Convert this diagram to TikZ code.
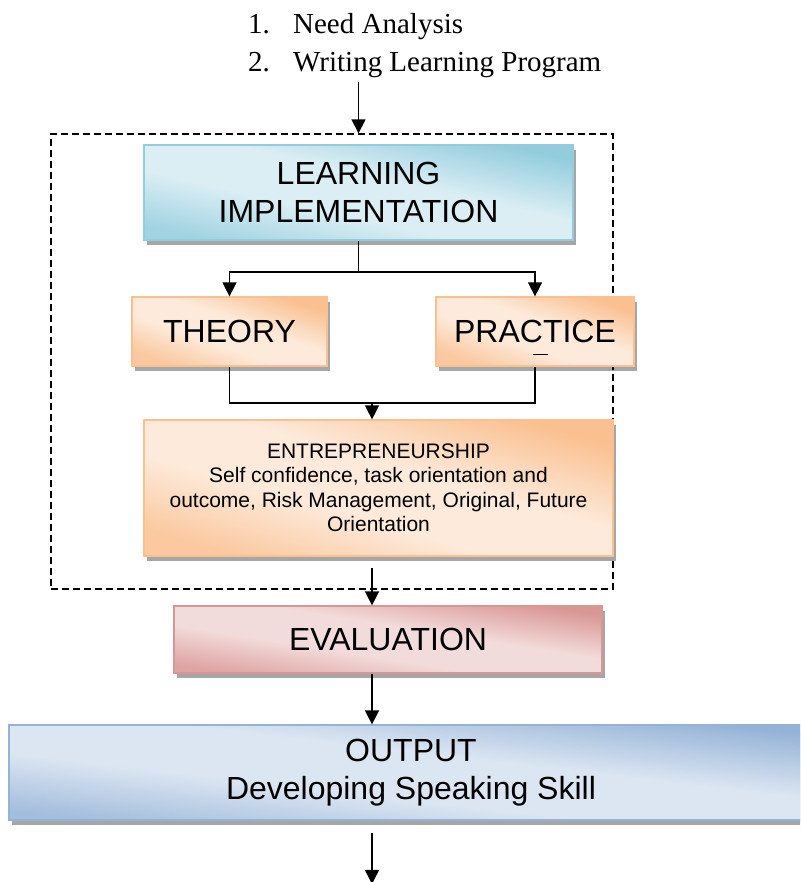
\documentclass[tikz,border=0pt]{standalone}
\usepackage{fontspec}
\setmainfont{Liberation Serif}
\setsansfont{Liberation Sans}
\usetikzlibrary{arrows.meta,shadows,positioning}

\definecolor{learndark}{HTML}{93CDDD}
\definecolor{learnlight}{HTML}{DBEEF4}
\definecolor{stepdark}{HTML}{FAC090}
\definecolor{steplight}{HTML}{FDEADA}
\definecolor{evaldark}{HTML}{D99694}
\definecolor{evallight}{HTML}{F2DCDB}
\definecolor{outdark}{HTML}{95B3D7}
\definecolor{outlight}{HTML}{DCE6F2}

\pgfdeclareverticalshading{learnshade}{100bp}{color(0bp)=(learndark!80!learnlight); color(25bp)=(learndark!80!learnlight);
  color(42bp)=(learnlight); color(56bp)=(learnlight); color(75bp)=(learndark); color(100bp)=(learndark)}
\pgfdeclareverticalshading{stepshade}{100bp}{color(0bp)=(stepdark!80!steplight); color(25bp)=(stepdark!80!steplight);
  color(42bp)=(steplight); color(56bp)=(steplight); color(75bp)=(stepdark); color(100bp)=(stepdark)}
\pgfdeclareverticalshading{evalshade}{100bp}{color(0bp)=(evaldark!80!evallight); color(25bp)=(evaldark!80!evallight);
  color(42bp)=(evallight); color(56bp)=(evallight); color(75bp)=(evaldark); color(100bp)=(evaldark)}
\pgfdeclareverticalshading{outshade}{100bp}{color(0bp)=(outdark!80!outlight); color(25bp)=(outdark!80!outlight);
  color(42bp)=(outlight); color(56bp)=(outlight); color(75bp)=(outdark); color(100bp)=(outdark)}

\tikzset{
  box/.style={rectangle, inner sep=0pt, align=center,
    font=\sffamily\fontsize{32}{38}\selectfont, line width=1.2pt,
    drop shadow={shadow xshift=3pt, shadow yshift=-5pt, fill=black, opacity=.35}},
  boxfill/.style n args={3}{draw=#1, shading=#2, shading angle=#3},
  smalltext/.style={font=\sffamily\fontsize{21}{24.5}\selectfont},
  plan/.style={anchor=base west, font=\fontsize{29}{38}\selectfont, inner sep=0pt},
  link/.style={line width=1.4pt},
  frame/.style={draw, line width=1.3pt, dash pattern=on 7pt off 4pt, inner sep=0pt}
}

\begin{document}
\begin{tikzpicture}[x=1pt, y=1pt, >={Triangle[length=14pt,width=14pt]}]
   \clip (0,0) rectangle (800,882);

   % steps before the implementation
   \node[plan] (need) at (248,848) {\makebox[45pt][l]{1.}Need Analysis};
   \node[plan] (prog) at (248,810) {\makebox[45pt][l]{2.}Writing Learning Program};

   % implementation block
   \node[frame, minimum width=562pt, minimum height=455pt] (frame) at (332,520.5) {};

   \node[box, boxfill={learndark}{learnshade}{-12.5}, minimum width=429pt, minimum height=95pt]
     (learn) at (358.5,689.5) {LEARNING\\IMPLEMENTATION};
   \node[box, boxfill={stepdark}{stepshade}{-19.5}, minimum width=195pt, minimum height=69pt]
     (theory) at (229.5,550.5) {THEORY};
   \node[box, boxfill={stepdark}{stepshade}{-19.5}, minimum width=198pt, minimum height=69pt]
     (practice) at (535,550.5) {PRACTICE};
   \node[box, smalltext, boxfill={stepdark}{stepshade}{-16}, minimum width=469pt, minimum height=136pt]
     (entre) at (378.5,394) {ENTREPRENEURSHIP\\Self confidence, task orientation and\\outcome, Risk Management, Original, Future\\Orientation};

   % after the implementation
   \node[box, boxfill={evaldark}{evalshade}{-9}, minimum width=428pt, minimum height=67pt]
     (eval) at (388,242.5) {EVALUATION};
   \node[box, boxfill={outdark}{outshade}{-6.7}, minimum width=804pt, minimum height=95pt]
     (output) at (411,109.5) {OUTPUT\\Developing Speaking Skill};

   \coordinate (start) at (358.5,800);
   \coordinate (fork) at (358.5,610);
   \coordinate (trunk) at (372,479);
   \coordinate (exit) at (372,-2);

   \draw[link,->] (start) -- (frame.north -| learn);
   \draw[link] (learn.south) -- (fork);
   \draw[link,->] (fork) -| (theory);
   \draw[link,->] (fork) -| (practice);
   \draw[link] (theory.south) |- (trunk) -| (practice.south);
   \draw[link] ([xshift=-2pt,yshift=12pt]practice.south) -- ++(15,0);
   \draw[link,->] (trunk) -- (trunk |- entre.north);
   \draw[link,->,shorten <=11pt] (entre.south -| trunk) -- (eval.north -| trunk);
   \draw[link,->] (eval.south -| trunk) -- (output.north -| trunk);
   \draw[link,->,shorten <=12pt] (output.south -| trunk) -- (exit);
\end{tikzpicture}
\end{document}
